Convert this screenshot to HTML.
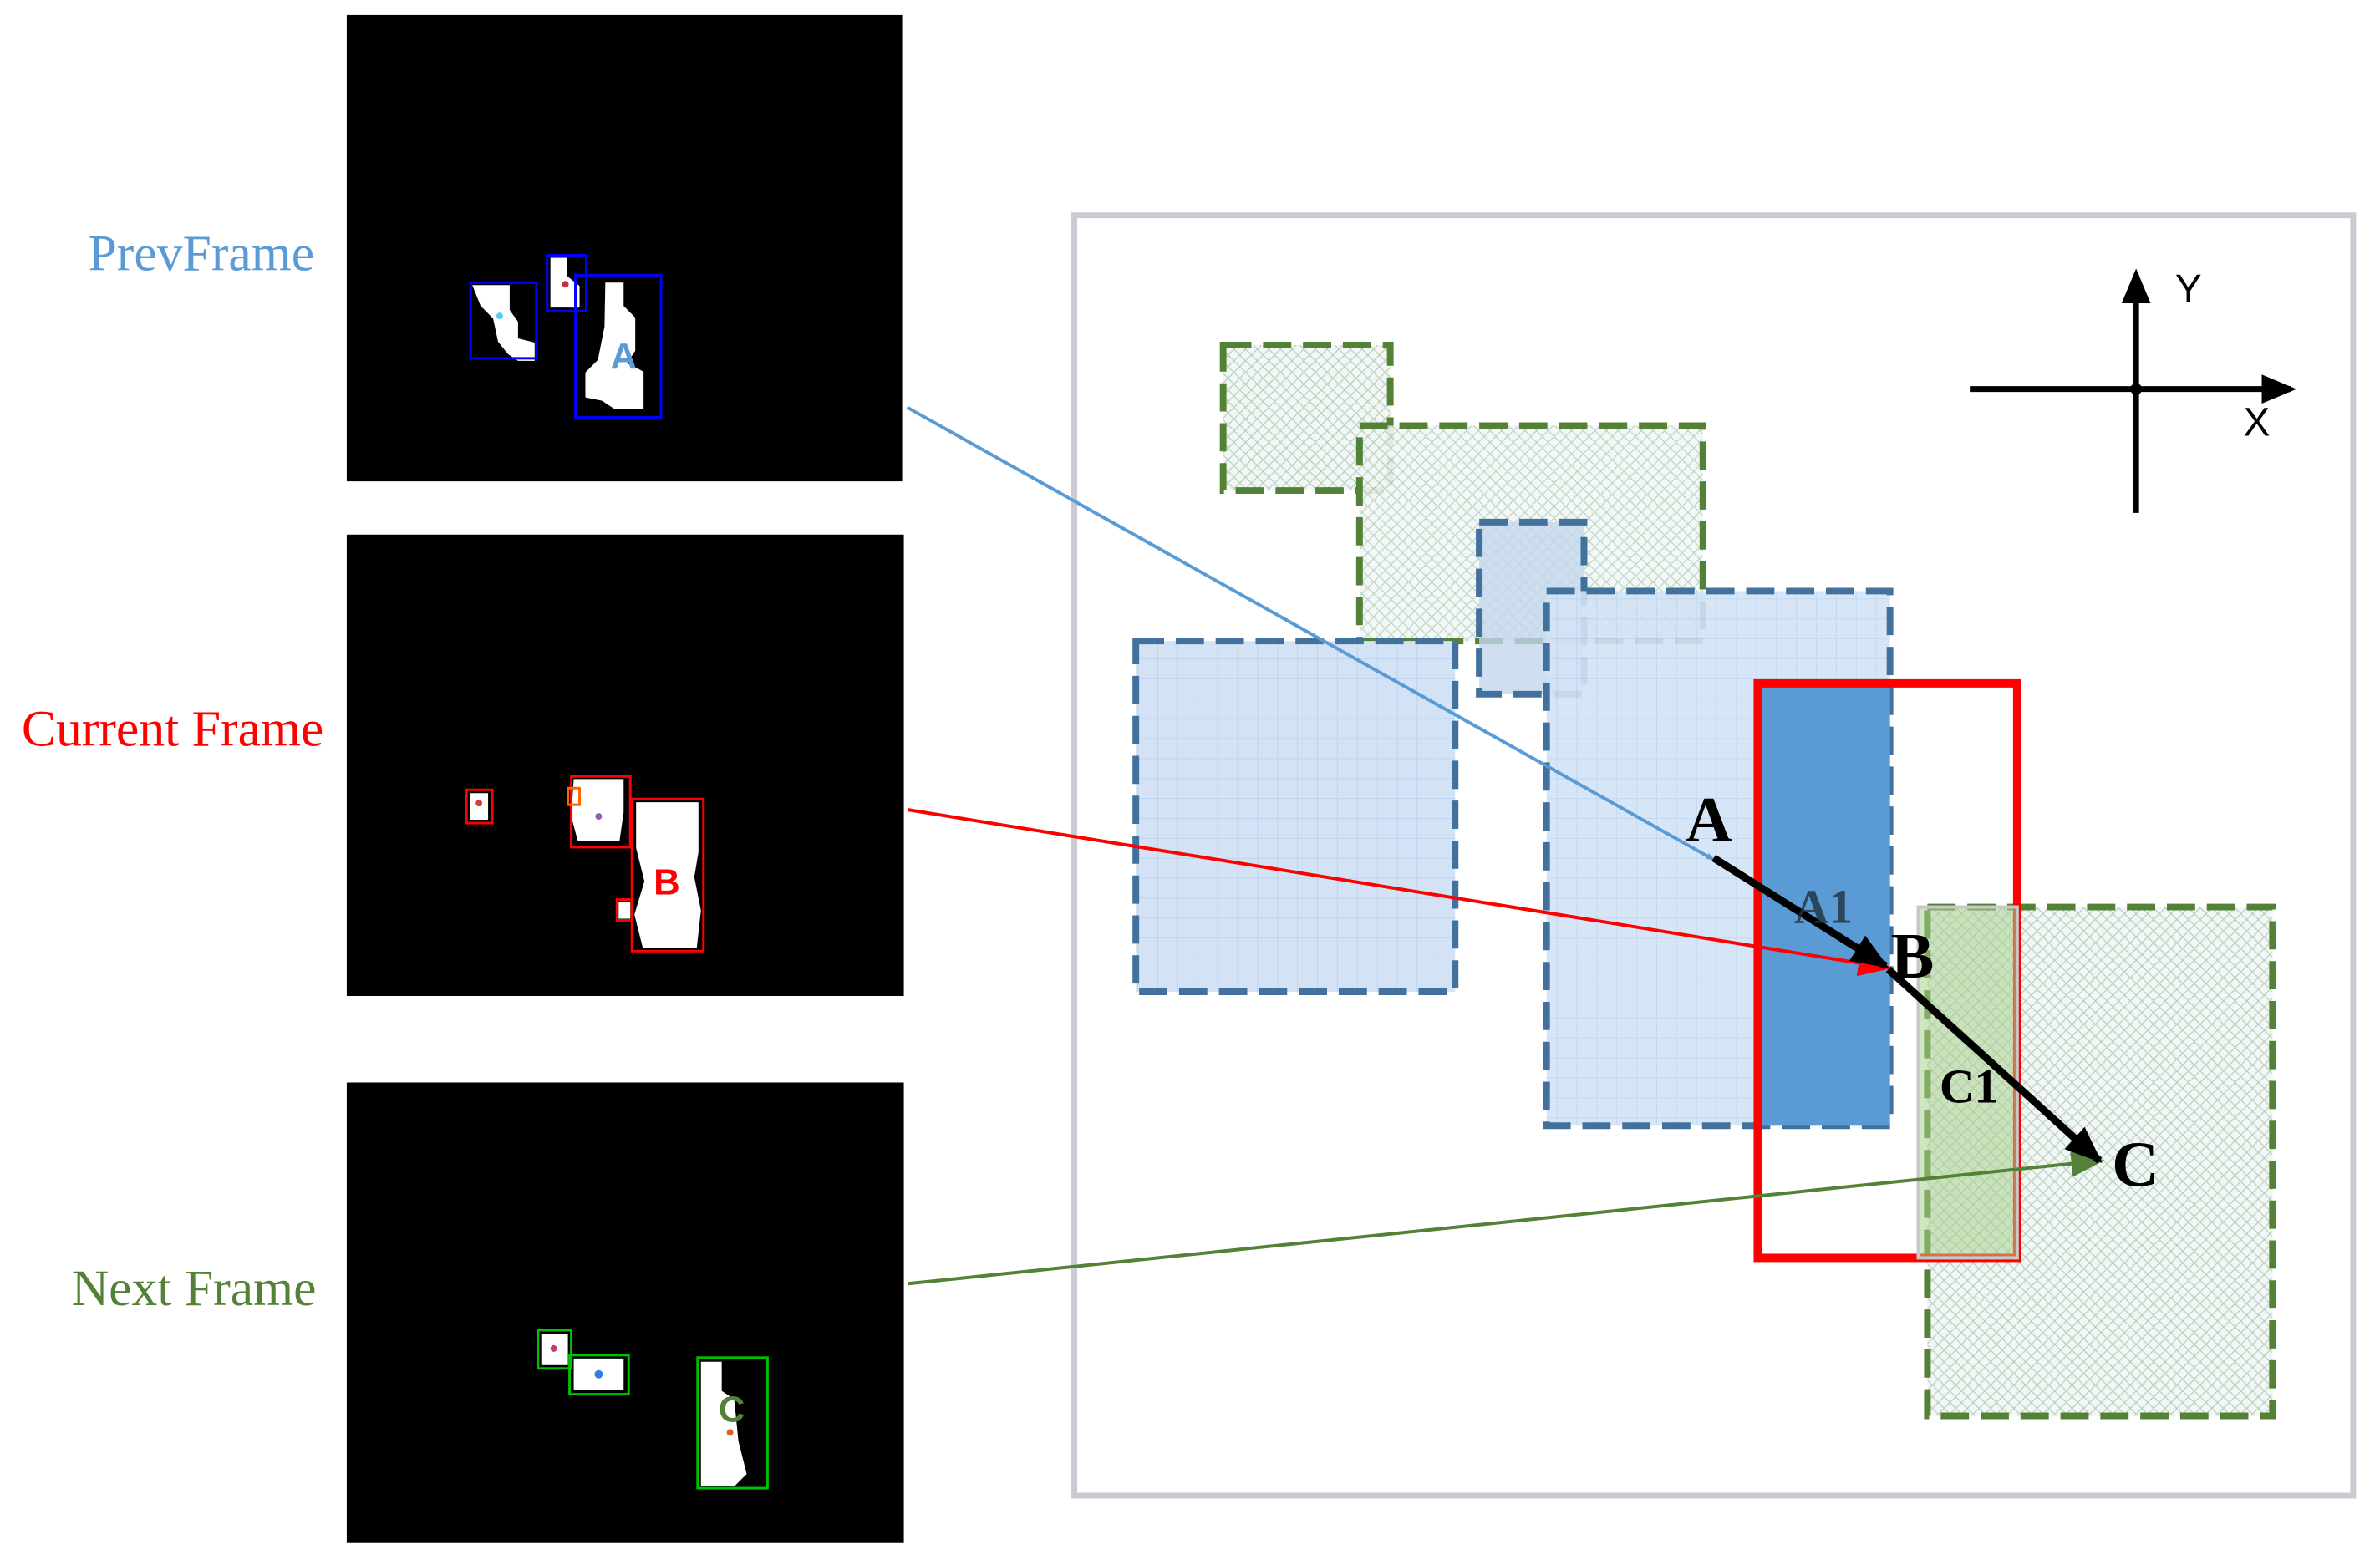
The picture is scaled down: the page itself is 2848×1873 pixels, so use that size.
<!DOCTYPE html>
<html><head><meta charset="utf-8"><style>
html,body{margin:0;padding:0;background:#fff;}
svg{display:block;}
</style></head><body>
<svg width="2848" height="1873" viewBox="0 0 2848 1873" xmlns="http://www.w3.org/2000/svg">
<defs>
<pattern id="hatch" width="14" height="14" patternUnits="userSpaceOnUse">
<rect width="14" height="14" fill="#f1f6f9"/>
<path d="M0 0L14 14M14 0L0 14" stroke="#b9cfb0" stroke-width="1.2"/>
</pattern>
<pattern id="grid" width="24" height="24" patternUnits="userSpaceOnUse">
<rect width="24" height="24" fill="#d3e3f5"/>
<path d="M0 0H24M0 0V24" stroke="#b6cff0" stroke-width="1.5"/>
</pattern>
<marker id="ab" markerWidth="10" markerHeight="8" refX="9" refY="4" orient="auto" markerUnits="userSpaceOnUse" viewBox="0 0 10 8"><path d="M0 0L10 4L0 8z" fill="#5b9bd5"/></marker>
<marker id="ar" markerWidth="10" markerHeight="8" refX="9" refY="4" orient="auto" viewBox="0 0 10 8"><path d="M0 0L10 4L0 8z" fill="#ff0000"/></marker>
<marker id="ag" markerWidth="10" markerHeight="8" refX="9" refY="4" orient="auto" viewBox="0 0 10 8"><path d="M0 0L10 4L0 8z" fill="#538135"/></marker>
<marker id="ak" markerWidth="5" markerHeight="4" refX="4.5" refY="2" orient="auto" viewBox="0 0 5 4"><path d="M0 0L5 2L0 4z" fill="#000"/></marker>
<marker id="ax" markerWidth="6" markerHeight="5" refX="5" refY="2.5" orient="auto" viewBox="0 0 6 5"><path d="M0 0L6 2.5L0 5z" fill="#000"/></marker>
</defs>
<g transform="scale(0.995)">
<!-- Left labels -->
<g font-family="Liberation Serif, serif" font-size="62">
<text x="106" y="325" fill="#5b9bd5">PrevFrame</text>
<text x="26" y="897" fill="#ff0000">Current Frame</text>
<text x="86" y="1570" fill="#538135">Next Frame</text>
</g>

<!-- Prev panel -->
<rect x="417" y="18" width="668" height="561" fill="#000"/>
<path d="M568 343h45v30l10 14v20l20 5v22h-20l-12-8-12-15-6-28-15-15z" fill="#fff"/>
<path d="M662 310h20v22l15 12v26h-35z" fill="#fff"/>
<path d="M728 340h22v28l14 14v40l-10 15 20 10v45h-35l-15-10-20-4v-30l15-15 8-40z" fill="#fff"/>
<rect x="566" y="340" width="79" height="91" fill="none" stroke="#0000ff" stroke-width="3"/>
<rect x="658" y="307" width="47" height="67" fill="none" stroke="#0000ff" stroke-width="3"/>
<rect x="692" y="331" width="103" height="171" fill="none" stroke="#0000ff" stroke-width="3"/>
<circle cx="601" cy="380" r="4" fill="#5bc8f0"/><circle cx="680" cy="342" r="4" fill="#c0304a"/>
<text x="750" y="443" font-family="Liberation Sans, sans-serif" font-size="44" font-weight="bold" fill="#5b9bd5" text-anchor="middle">A</text>

<!-- Current panel -->
<rect x="417" y="643" width="670" height="555" fill="#000"/>
<rect x="565" y="954" width="22" height="32" fill="#fff"/>
<path d="M690 937h60v40l-5 35h-50l-8-30z" fill="#fff"/>
<path d="M765 965h75v60l-5 30 8 40-5 45h-65l-10-40 12-40-10-40z" fill="#fff"/>
<rect x="744" y="1085" width="14" height="20" fill="#fff"/>
<rect x="561" y="950" width="31" height="40" fill="none" stroke="#ff0000" stroke-width="3"/>
<rect x="687" y="934" width="71" height="85" fill="none" stroke="#ff0000" stroke-width="3"/>
<rect x="760" y="961" width="86" height="183" fill="none" stroke="#ff0000" stroke-width="3"/>
<rect x="742" y="1082" width="18" height="25" fill="none" stroke="#ff0000" stroke-width="3"/>
<rect x="683" y="948" width="14" height="20" fill="none" stroke="#ff6600" stroke-width="3"/>
<circle cx="576" cy="966" r="4" fill="#d04040"/><circle cx="720" cy="982" r="4" fill="#9060b0"/>
<text x="802" y="1076" font-family="Liberation Sans, sans-serif" font-size="44" font-weight="bold" fill="#ff0000" text-anchor="middle">B</text>

<!-- Next panel -->
<rect x="417" y="1302" width="670" height="554" fill="#000"/>
<rect x="651" y="1604" width="32" height="38" fill="#fff"/>
<path d="M690 1634h60v38h-60z" fill="#fff"/>
<path d="M843 1638h25v35l15 10 5 50 10 40-15 15h-40z" fill="#fff"/>
<rect x="647" y="1600" width="40" height="46" fill="none" stroke="#00c000" stroke-width="3"/>
<rect x="685" y="1630" width="71" height="47" fill="none" stroke="#00c000" stroke-width="3"/>
<rect x="839" y="1633" width="84" height="157" fill="none" stroke="#00c000" stroke-width="3"/>
<circle cx="666" cy="1622" r="4" fill="#c04060"/><circle cx="720" cy="1653" r="5" fill="#3080e0"/><circle cx="878" cy="1723" r="4" fill="#e06020"/>
<text x="880" y="1710" font-family="Liberation Sans, sans-serif" font-size="44" font-weight="bold" fill="#538135" text-anchor="middle">C</text>

<!-- Main frame -->
<rect x="1292" y="259" width="1538" height="1540" fill="#fff" stroke="#c8ccd2" stroke-width="7"/>

<g stroke-width="8" stroke-dasharray="34 14">
<rect x="1471" y="415" width="201" height="175" fill="url(#hatch)" stroke="#538135"/>
<rect x="1635" y="512" width="413" height="259" fill="url(#hatch)" stroke="#538135" fill-opacity="0.9"/>
<rect x="1779" y="628" width="126" height="207" fill="#c3d7ee" fill-opacity="0.8" stroke="#41719c"/>
<rect x="1366" y="771" width="384" height="422" fill="url(#grid)" stroke="#41719c"/>
<rect x="1860" y="711" width="413" height="643" fill="url(#grid)" stroke="#41719c" fill-opacity="0.9"/>
</g>
<rect x="2114" y="822" width="159" height="532" fill="#5b9bd5"/>
<rect x="2318" y="1091" width="415" height="612" fill="url(#hatch)" stroke="#538135" stroke-width="8" stroke-dasharray="34 14"/>
<rect x="2114" y="822" width="312" height="691" fill="none" stroke="#ff0000" stroke-width="10"/>
<rect x="2307" y="1091" width="119" height="422" fill="#a9d08e" fill-opacity="0.55" stroke="#c8c8c8" stroke-width="4"/>

<!-- axes -->
<line x1="2369" y1="468" x2="2755" y2="468" stroke="#000" stroke-width="7" marker-end="url(#ax)"/>
<line x1="2569" y1="617" x2="2569" y2="330" stroke="#000" stroke-width="7" marker-end="url(#ax)"/>
<circle cx="2569" cy="468" r="7" fill="#000"/>
<text x="2616" y="364" font-family="Liberation Sans, sans-serif" font-size="48">Y</text>
<text x="2698" y="524" font-family="Liberation Sans, sans-serif" font-size="48">X</text>

<!-- connectors -->
<line x1="1091" y1="490" x2="2061" y2="1034" stroke="#5b9bd5" stroke-width="4" marker-end="url(#ab)"/>
<line x1="1092" y1="974" x2="2271" y2="1164" stroke="#ff0000" stroke-width="4" marker-end="url(#ar)"/>
<line x1="1092" y1="1544" x2="2527" y2="1396" stroke="#538135" stroke-width="4" marker-end="url(#ag)"/>
<line x1="2061" y1="1032" x2="2268" y2="1162" stroke="#000" stroke-width="9" marker-end="url(#ak)"/>
<line x1="2271" y1="1166" x2="2525" y2="1396" stroke="#000" stroke-width="9" marker-end="url(#ak)"/>

<g font-family="Liberation Serif, serif" font-weight="bold">
<text x="2055" y="1012" font-size="78" text-anchor="middle">A</text>
<text x="2300" y="1176" font-size="78" text-anchor="middle">B</text>
<text x="2568" y="1426" font-size="78" text-anchor="middle">C</text>
<text x="2193" y="1110" font-size="58" text-anchor="middle" fill="#1f2f3f" fill-opacity="0.8">A1</text>
<text x="2368" y="1326" font-size="58" text-anchor="middle">C1</text>
</g>
</g>
</svg>
</body></html>
